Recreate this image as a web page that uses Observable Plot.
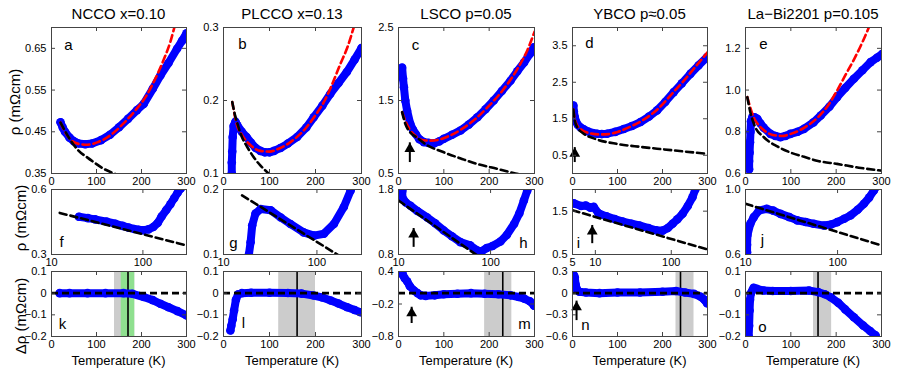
<!DOCTYPE html>
<html><head><meta charset="utf-8">
<script src="https://cdn.jsdelivr.net/npm/d3@7"></script>
<script src="https://cdn.jsdelivr.net/npm/@observablehq/plot@0.6"></script>
<style>
body{margin:0;background:#fff;}
#chart{position:relative;width:899px;height:372px;overflow:hidden;font-family:"Liberation Sans",Arial,sans-serif;color:#000;background:#fff;}
.lbl{position:absolute;white-space:nowrap;transform:translate(-50%,-50%);line-height:1;}
.ylbl{position:absolute;white-space:nowrap;transform:translate(-50%,-50%) rotate(-90deg);line-height:1;}
</style></head><body><div id="chart"></div>
<script>
// ---------- text ----------
const titles = ["NCCO x=0.10", "PLCCO x=0.13", "LSCO p=0.05", "YBCO p\u22480.05", "La\u2212Bi2201 p=0.105"];
const rowLabels = ["\u03c1 (m\u03a9cm)", "\u03c1 (m\u03a9cm)", "\u0394\u03c1 (m\u03a9cm)"];
const xTitle = "Temperature (K)";
const letters = ["a","b","c","d","e","f","g","h","i","j","k","l","m","n","o"];

// ---------- tick values / labels ----------
const linTicks = [0, 100, 200, 300];
const linTickLabels = ["0", "100", "200", "300"];
const logTicks = [10, 100];
const logTickLabels = ["10", "100"];
const logTicksY = [5, 10, 100];
const logTickLabelsY = ["5", "10", "100"];

const a_yTicks = [0.35, 0.45, 0.55, 0.65], a_yLabels = ["0.35","0.45","0.55","0.65"];
const b_yTicks = [0.1, 0.2, 0.3], b_yLabels = ["0.1","0.2","0.3"];
const c_yTicks = [0.5, 1.5, 2.5], c_yLabels = ["0.5","1.5","2.5"];
const d_yTicks = [0.5, 1.5, 2.5, 3.5], d_yLabels = ["0.5","1.5","2.5","3.5"];
const e_yTicks = [0.6, 0.8, 1.0, 1.2], e_yLabels = ["0.6","0.8","1.0","1.2"];
const f_yTicks = [0.3, 0.6], f_yLabels = ["0.3","0.6"];
const g_yTicks = [0.1, 0.2], g_yLabels = ["0.1","0.2"];
const h_yTicks = [0.8, 1.8], h_yLabels = ["0.8","1.8"];
const i_yTicks = [0.5, 1.5], i_yLabels = ["0.5","1.5"];
const j_yTicks = [0.6, 1.0], j_yLabels = ["0.6","1.0"];
const k_yTicks = [-0.2, -0.1, 0, 0.1], k_yLabels = ["\u22120.2","\u22120.1","0","0.1"];
const m_yTicks = [-0.8, -0.2, 0.4], m_yLabels = ["\u22120.8","\u22120.2","0.4"];
const n_yTicks = [-0.6, -0.3, 0, 0.3], n_yLabels = ["\u22120.6","\u22120.3","0","0.3"];

// ---------- data: NCCO ----------
const a_T   = [20,25,30,40,50,60,75,90,110,130,150,170,190,205,225,242,260,279,290,300];
const a_rho = [0.473,0.460,0.450,0.436,0.427,0.422,0.420,0.422,0.430,0.443,0.461,0.481,0.502,0.517,0.553,0.585,0.615,0.649,0.668,0.686];
const a_redT = [20,30,40,60,80,100,130,160,190,210,227,249,264,273];
const a_red  = [0.472,0.450,0.434,0.421,0.419,0.424,0.441,0.470,0.506,0.535,0.569,0.622,0.665,0.70];
const a_blkT = [20,30,42,60,80,94,115,139,160];
const a_blk  = [0.472,0.452,0.430,0.405,0.388,0.377,0.362,0.350,0.341];
const f_T   = [20,25,30,40,50,60,70,80,90,100,115,130,145,160,180,200,220,240,260,280];
const f_rho = [0.474,0.468,0.462,0.452,0.442,0.432,0.424,0.418,0.414,0.412,0.416,0.427,0.445,0.475,0.505,0.532,0.560,0.585,0.605,0.625];
const f_blkT = [12.3, 300];
const f_blk  = [0.492, 0.342];
const k_T = [18,40,80,120,160,180,205,225,242,260,280,300];
const k_d = [0.0,0.0,0.0,0.0,0.0,-0.003,-0.018,-0.032,-0.049,-0.065,-0.083,-0.103];
const k_band = [140, 185], k_green = [155, 185], k_line = [170];

// ---------- data: PLCCO ----------
const b_T   = [18,18,19,20,22,26,30,40,50,60,70,80,90,100,110,124,140,160,180,196,215,232,250,268,285,300];
const b_rho = [0.10,0.115,0.13,0.15,0.165,0.171,0.166,0.157,0.150,0.142,0.135,0.131,0.129,0.129,0.131,0.135,0.141,0.150,0.163,0.177,0.193,0.209,0.224,0.239,0.256,0.272];
const b_redT = [19,25,30,40,60,80,100,120,150,180,200,220,240,254,270,283];
const b_red  = [0.198,0.178,0.165,0.153,0.138,0.131,0.130,0.134,0.145,0.163,0.180,0.200,0.228,0.250,0.274,0.300];
const b_blkT = [19,25,29,40,51,65,80,98,110];
const b_blk  = [0.198,0.180,0.171,0.150,0.137,0.123,0.111,0.100,0.092];
const g_T   = [18.7,19.5,20.3,22,25,32,41,52,72,93,119,152,194,229,250];
const g_rho = [0.1,0.119,0.145,0.163,0.170,0.168,0.157,0.147,0.134,0.129,0.132,0.147,0.173,0.198,0.215];
const g_blkT = [15.8, 200];
const g_blk  = [0.191, 0.0925];
const l_T = [15,17,20,23,27,32,40,60,100,140,170,196,215,233,250,269,285,298];
const l_d = [-0.172,-0.15,-0.12,-0.08,-0.03,-0.005,0.0,0.002,0.002,0.001,-0.002,-0.011,-0.02,-0.034,-0.048,-0.065,-0.078,-0.088];
const l_band = [120, 200], l_line = [160];

// ---------- data: LSCO ----------
const c_T   = [8,10,12,15,19,26,32,38,46,56,66,78,90,100,118,137,155,174,192,210,228,247,262,277,290,299];
const c_rho = [1.95,1.80,1.68,1.50,1.36,1.18,1.10,1.04,0.97,0.93,0.92,0.91,0.94,0.975,1.03,1.09,1.17,1.27,1.38,1.50,1.63,1.77,1.90,2.02,2.14,2.23];
const c_redT = [8,15,25,40,55,70,90,110,140,170,200,230,262,285,300];
const c_red  = [1.34,1.22,1.10,1.00,0.955,0.95,0.965,1.01,1.11,1.25,1.43,1.64,1.93,2.20,2.44];
const c_blkT = [8,15,25,41,60,100,140,174,220,258,300];
const c_blk  = [1.34,1.18,1.07,0.99,0.90,0.79,0.70,0.63,0.56,0.50,0.45];
const c_arrow = {x: 25, y1: 0.65, y2: 0.92};
const h_T   = [11,11,12,13.5,16,20.5,25,31,38,47,60,72,80,91,105,128,150,180,205,230,250,265];
const h_rho = [1.78,1.68,1.60,1.55,1.47,1.37,1.28,1.17,1.08,0.99,0.94,0.86,0.85,0.90,0.93,1.00,1.10,1.27,1.43,1.63,1.78,1.90];
const h_blkT = [10, 80];
const h_blk  = [1.63, 0.737];
const h_arrow = {x: 14.6, y1: 0.91, y2: 1.2};
const m_T = [8,10,14,19,25,34,42,49,60,80,100,130,160,190,220,247,265,277,290,299];
const m_d = [0.40,0.33,0.27,0.22,0.13,0.05,0.0,-0.04,-0.05,-0.04,-0.02,-0.01,0.0,-0.01,-0.02,-0.04,-0.07,-0.10,-0.15,-0.23];
const m_band = [190, 250], m_line = [230];
const m_arrow = {x: 29, y1: -0.56, y2: -0.26};

// ---------- data: YBCO ----------
const d_T   = [2,3,5,8,12,18,25,35,45,55,65,77,95,114,132,151,170,188,206,225,243,262,280,299];
const d_rho = [1.86,1.70,1.55,1.42,1.33,1.26,1.21,1.15,1.11,1.09,1.08,1.09,1.14,1.22,1.30,1.41,1.56,1.73,1.96,2.23,2.47,2.73,2.96,3.19];
const d_redT = [2,5,10,20,40,60,80,100,130,160,190,220,250,275,300];
const d_red  = [1.75,1.50,1.33,1.20,1.10,1.07,1.08,1.14,1.29,1.49,1.77,2.17,2.58,2.95,3.32];
const d_blkT = [2,5,10,25,50,99,150,188,250,299];
const d_blk  = [1.75,1.45,1.28,1.09,0.95,0.81,0.73,0.68,0.60,0.54];
const d_arrow = {x: 5, y1: 0.3, y2: 0.71};
const i_T   = [5.2,6.5,7.5,8.6,9.5,11,14,18,23,30,38,50,63,77,90,104,120,141,165,190,207,220];
const i_rho = [1.68,1.62,1.63,1.58,1.60,1.45,1.38,1.32,1.26,1.21,1.17,1.11,1.06,1.05,1.11,1.21,1.31,1.44,1.62,1.82,2.0,2.1];
const i_blkT = [5, 300];
const i_blk  = [1.52, 0.616];
const i_arrow = {x: 9.1, y1: 0.75, y2: 1.17};
const n_T = [1,3,5,7,10,15,30,60,100,150,200,230,250,270,285,293,299];
const n_d = [0.22,0.25,0.22,0.12,0.05,0.02,0.01,0.0,0.01,0.01,0.02,0.03,0.01,-0.01,-0.05,-0.09,-0.14];
const n_band = [230, 270], n_line = [240];
const n_arrow = {x: 9, y1: -0.38, y2: -0.11};

// ---------- data: La-Bi2201 ----------
const e_T   = [8,8,9,10,11,12,15,20,26,33,40,55,66,77,88,99,115,129,150,166,185,202,220,239,258,276,290,302];
const e_rho = [0.62,0.66,0.70,0.75,0.80,0.85,0.87,0.870,0.862,0.84,0.82,0.79,0.78,0.774,0.78,0.79,0.80,0.814,0.845,0.878,0.92,0.966,1.01,1.054,1.095,1.134,1.155,1.174];
const e_redT = [4,10,20,30,45,60,80,100,130,160,180,200,220,240,258,272];
const e_red  = [0.966,0.92,0.86,0.83,0.80,0.785,0.78,0.79,0.82,0.87,0.92,0.99,1.07,1.15,1.23,1.30];
const e_blkT = [4,10,20,40,70,100,129,160,202,250,298];
const e_blk  = [0.966,0.90,0.83,0.775,0.73,0.70,0.68,0.66,0.646,0.628,0.614];
const j_T   = [10.4,10.4,10.5,11.3,12.3,14,17,20,24,30,36.5,45,55,71,85,99,118,138,165,193,220,248,265];
const j_rho = [0.614,0.66,0.72,0.79,0.83,0.87,0.881,0.87,0.85,0.83,0.81,0.80,0.789,0.778,0.785,0.799,0.82,0.84,0.875,0.912,0.95,0.994,1.02];
const j_blkT = [10, 300];
const j_blk  = [0.912, 0.656];
const o_T = [7,8,9,10,12,15,18,25,40,60,100,140,160,175,188,205,220,239,260,275,287];
const o_d = [-0.20,-0.15,-0.08,-0.03,0.0,0.012,0.025,0.02,0.012,0.01,0.01,0.012,0.005,-0.005,-0.019,-0.045,-0.075,-0.111,-0.15,-0.175,-0.195];
const o_band = [150, 190], o_line = [160];

// ---------- layout ----------
const colLeft = [51, 223, 398, 572, 745];
const colWidth = [135, 138, 136, 135, 136];
const rowTop = [27, 189, 271];
const rowHeight = [146, 65, 65];
const ML = 45, MR = 10, MT = 10, MB = 32;
const BLUE = "#0000ff", RED = "#ff0000", FRAME = "#444";
const DASH = "7,4";

const pts = (T, v) => T.map((t, i) => ({x: t, y: v[i]}));
const chart = document.getElementById("chart");

const panels = [
  {r:0,c:0,L:"a",la:"top-left",ldx:17,ldy:18,xt:"linear",xd:[0,300],xT:linTicks,xL:linTickLabels,yd:[0.35,0.70],yT:a_yTicks,yL:a_yLabels,blue:pts(a_T,a_rho),red:pts(a_redT,a_red),blk:pts(a_blkT,a_blk)},
  {r:0,c:1,L:"b",la:"top-left",ldx:19,ldy:17,xt:"linear",xd:[0,300],xT:linTicks,xL:linTickLabels,yd:[0.1,0.3],yT:b_yTicks,yL:b_yLabels,blue:pts(b_T,b_rho),red:pts(b_redT,b_red),blk:pts(b_blkT,b_blk)},
  {r:0,c:2,L:"c",la:"top-left",ldx:17,ldy:18,xt:"linear",xd:[0,300],xT:linTicks,xL:linTickLabels,yd:[0.5,2.5],yT:c_yTicks,yL:c_yLabels,blue:pts(c_T,c_rho),red:pts(c_redT,c_red),blk:pts(c_blkT,c_blk),arrow:c_arrow},
  {r:0,c:3,L:"d",la:"top-left",ldx:17,ldy:16,xt:"linear",xd:[0,300],xT:linTicks,xL:linTickLabels,yd:[0,4],yT:d_yTicks,yL:d_yLabels,blue:pts(d_T,d_rho),red:pts(d_redT,d_red),blk:pts(d_blkT,d_blk),arrow:d_arrow},
  {r:0,c:4,L:"e",la:"top-left",ldx:18,ldy:17,xt:"linear",xd:[0,300],xT:linTicks,xL:linTickLabels,yd:[0.6,1.3],yT:e_yTicks,yL:e_yLabels,blue:pts(e_T,e_rho),red:pts(e_redT,e_red),blk:pts(e_blkT,e_blk)},
  {r:1,c:0,L:"f",la:"bottom-left",ldx:10,ldy:-12,xt:"log",xd:[10,300],xT:logTicks,xL:logTickLabels,yd:[0.3,0.6],yT:f_yTicks,yL:f_yLabels,blue:pts(f_T,f_rho),blk:pts(f_blkT,f_blk)},
  {r:1,c:1,L:"g",la:"bottom-left",ldx:10,ldy:-11,xt:"log",xd:[10,300],xT:logTicks,xL:logTickLabels,yd:[0.1,0.2],yT:g_yTicks,yL:g_yLabels,blue:pts(g_T,g_rho),blk:pts(g_blkT,g_blk)},
  {r:1,c:2,L:"h",la:"bottom-right",ldx:-11,ldy:-11,xt:"log",xd:[10,300],xT:logTicks,xL:logTickLabels,yd:[0.8,1.8],yT:h_yTicks,yL:h_yLabels,blue:pts(h_T,h_rho),blk:pts(h_blkT,h_blk),arrow:h_arrow},
  {r:1,c:3,L:"i",la:"bottom-left",ldx:6,ldy:-11,xt:"log",xd:[5,300],xT:logTicksY,xL:logTickLabelsY,yd:[0.5,2.0],yT:i_yTicks,yL:i_yLabels,blue:pts(i_T,i_rho),blk:pts(i_blkT,i_blk),arrow:i_arrow},
  {r:1,c:4,L:"j",la:"bottom-left",ldx:17,ldy:-14,xt:"log",xd:[10,300],xT:logTicks,xL:logTickLabels,yd:[0.6,1.0],yT:j_yTicks,yL:j_yLabels,blue:pts(j_T,j_rho),blk:pts(j_blkT,j_blk)},
  {r:2,c:0,L:"k",la:"bottom-left",ldx:11,ldy:-12,xt:"linear",xd:[0,300],xT:linTicks,xL:linTickLabels,yd:[-0.2,0.1],yT:k_yTicks,yL:k_yLabels,blue:pts(k_T,k_d),zero:true,band:k_band,green:k_green,vline:k_line},
  {r:2,c:1,L:"l",la:"bottom-left",ldx:20,ldy:-13,xt:"linear",xd:[0,300],xT:linTicks,xL:linTickLabels,yd:[-0.2,0.1],yT:k_yTicks,yL:k_yLabels,blue:pts(l_T,l_d),zero:true,band:l_band,vline:l_line},
  {r:2,c:2,L:"m",la:"bottom-right",ldx:-10,ldy:-12,xt:"linear",xd:[0,300],xT:linTicks,xL:linTickLabels,yd:[-0.8,0.4],yT:m_yTicks,yL:m_yLabels,blue:pts(m_T,m_d),zero:true,band:m_band,vline:m_line,arrow:m_arrow},
  {r:2,c:3,L:"n",la:"bottom-left",ldx:13,ldy:-11,xt:"linear",xd:[0,300],xT:linTicks,xL:linTickLabels,yd:[-0.6,0.3],yT:n_yTicks,yL:n_yLabels,blue:pts(n_T,n_d),zero:true,band:n_band,vline:n_line,arrow:n_arrow},
  {r:2,c:4,L:"o",la:"bottom-left",ldx:17,ldy:-9,xt:"linear",xd:[0,300],xT:linTicks,xL:linTickLabels,yd:[-0.2,0.1],yT:k_yTicks,yL:k_yLabels,blue:pts(o_T,o_d),zero:true,band:o_band,vline:o_line}
];

for (const p of panels) {
  const w = colWidth[p.c], h = rowHeight[p.r];
  const xLab = new Map(p.xT.map((t, i) => [t, p.xL[i]]));
  const yLab = new Map(p.yT.map((t, i) => [t, p.yL[i]]));
  const marks = [];
  if (p.band) marks.push(Plot.rect([p.band], {x1: d => d[0], x2: d => d[1], y1: () => p.yd[0], y2: () => p.yd[1], fill: "#cccccc"}));
  if (p.green) marks.push(Plot.rect([p.green], {x1: d => d[0], x2: d => d[1], y1: () => p.yd[0], y2: () => p.yd[1], fill: "#8fe08f"}));
  if (p.vline) marks.push(Plot.ruleX(p.vline, {x: d => d, stroke: "#000", strokeWidth: 1.6}));
  marks.push(Plot.line(p.blue, {x: "x", y: "y", stroke: BLUE, strokeWidth: 8, strokeLinecap: "round", strokeLinejoin: "round", clip: true}));
  marks.push(Plot.dot(p.blue, {x: "x", y: "y", r: 4.3, fill: BLUE, stroke: "none", clip: true}));
  if (p.red) marks.push(Plot.line(p.red, {x: "x", y: "y", stroke: RED, strokeWidth: 2.6, strokeDasharray: DASH, curve: "monotone-x", clip: true}));
  if (p.blk) marks.push(Plot.line(p.blk, {x: "x", y: "y", stroke: "#000", strokeWidth: 2.6, strokeDasharray: DASH, curve: "monotone-x", clip: true}));
  if (p.zero) marks.push(Plot.ruleY([0], {stroke: "#000", strokeWidth: 2.6, strokeDasharray: DASH}));
  if (p.arrow) {
    marks.push(Plot.ruleX([p.arrow], {x: "x", y1: "y1", y2: "y2", stroke: "#000", strokeWidth: 2}));
    marks.push(Plot.dot([p.arrow], {x: "x", y: "y2", symbol: "triangle", r: 4, fill: "#000", stroke: "none", dy: 6}));
  }
  // frame and inward ticks
  marks.push(Plot.frame({stroke: FRAME, strokeWidth: 1}));
  marks.push(Plot.tickX(p.xT, {x: d => d, insetTop: h - 4, stroke: FRAME}));
  marks.push(Plot.tickX(p.xT, {x: d => d, insetBottom: h - 4, stroke: FRAME}));
  marks.push(Plot.tickY(p.yT, {y: d => d, insetRight: w - 4, stroke: FRAME}));
  marks.push(Plot.tickY(p.yT, {y: d => d, insetLeft: w - 4, stroke: FRAME}));
  // tick labels
  marks.push(Plot.text(p.xT, {x: d => d, text: d => xLab.get(d), frameAnchor: "bottom", lineAnchor: "top", textAnchor: "middle", dy: 4, fontSize: 11}));
  marks.push(Plot.text(p.yT, {y: d => d, text: d => yLab.get(d), frameAnchor: "left", textAnchor: "end", lineAnchor: "middle", dx: -5, fontSize: 11}));
  // panel letter
  marks.push(Plot.text([p.L], {text: d => d, frameAnchor: p.la, textAnchor: "middle", lineAnchor: "middle", dx: p.ldx, dy: p.ldy, fontSize: 15}));

  const svg = Plot.plot({
    width: w + ML + MR, height: h + MT + MB,
    marginLeft: ML, marginRight: MR, marginTop: MT, marginBottom: MB,
    x: {type: p.xt, domain: p.xd, axis: null},
    y: {type: "linear", domain: p.yd, axis: null},
    style: {fontFamily: "'Liberation Sans', Arial, sans-serif", color: "#000"},
    marks
  });
  svg.style.position = "absolute";
  svg.style.left = (colLeft[p.c] - ML) + "px";
  svg.style.top = (rowTop[p.r] - MT) + "px";
  svg.style.background = "none";
  svg.style.overflow = "visible";
  svg.style.maxWidth = "none";
  chart.appendChild(svg);
}

function addLabel(text, x, y, size, cls) {
  const el = document.createElement("div");
  el.className = cls || "lbl";
  el.textContent = text;
  el.style.left = x + "px";
  el.style.top = y + "px";
  el.style.fontSize = size + "px";
  chart.appendChild(el);
}
titles.forEach((t, c) => addLabel(t, colLeft[c] + colWidth[c] / 2, 13, 15));
titles.forEach((t, c) => addLabel(xTitle, colLeft[c] + colWidth[c] / 2, 360, 13));
addLabel(rowLabels[0], 14, 102, 15, "ylbl");
addLabel(rowLabels[1], 20, 218, 15, "ylbl");
addLabel(rowLabels[2], 20, 316, 15, "ylbl");
</script></body></html>
